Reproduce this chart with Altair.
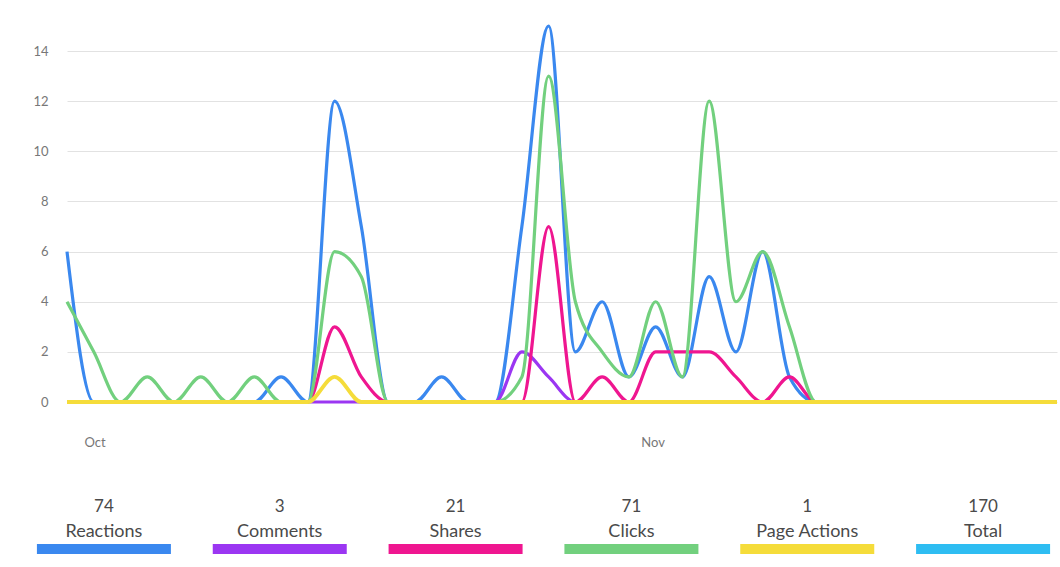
import altair as alt
import pandas as pd

series = ["Reactions", "Comments", "Shares", "Clicks", "Page Actions"]
colors = ["#3a88ef", "#9b36f2", "#ef1690", "#72d07e", "#f5dc3a"]
widths = [3.2, 3.2, 3.2, 3.2, 3.8]
legend_names = ["Reactions", "Comments", "Shares", "Clicks", "Page Actions", "Total"]
legend_totals = [74, 3, 21, 71, 1, 170]
legend_colors = ["#3a88ef", "#9b36f2", "#ef1690", "#72d07e", "#f5dc3a", "#2ebdf2"]

reactions = [6, 0, 0, 0, 0, 0, 0, 0, 1, 0, 12, 7, 0, 0, 1, 0, 0, 7, 15, 2, 4, 1, 3, 1, 5, 2, 6, 1, 0, 0, 0, 0, 0, 0, 0, 0, 0, 0]
comments = [0, 0, 0, 0, 0, 0, 0, 0, 0, 0, 0, 0, 0, 0, 0, 0, 0, 2, 1, 0, 0, 0, 0, 0, 0, 0, 0, 0, 0, 0, 0, 0, 0, 0, 0, 0, 0, 0]
shares = [0, 0, 0, 0, 0, 0, 0, 0, 0, 0, 3, 1, 0, 0, 0, 0, 0, 0, 7, 0, 1, 0, 2, 2, 2, 1, 0, 1, 0, 0, 0, 0, 0, 0, 0, 0, 0, 0]
clicks = [4, 2, 0, 1, 0, 1, 0, 1, 0, 0, 6, 5, 0, 0, 0, 0, 0, 1, 13, 4, 2, 1, 4, 1, 12, 4, 6, 3, 0, 0, 0, 0, 0, 0, 0, 0, 0, 0]
page_actions = [0, 0, 0, 0, 0, 0, 0, 0, 0, 0, 1, 0, 0, 0, 0, 0, 0, 0, 0, 0, 0, 0, 0, 0, 0, 0, 0, 0, 0, 0, 0, 0, 0, 0, 0, 0, 0, 0]

dates = pd.date_range("2019-09-29 11:20", periods=38, freq="2140min")
date_strs = [d.strftime("%Y-%m-%dT%H:%M:%S") for d in dates]

rows = []
for k, (name, vals) in enumerate(zip(series, [reactions, comments, shares, clicks, page_actions])):
    for d, v in zip(date_strs, vals):
        rows.append({"date": d, "series": name, "value": v})
df = pd.DataFrame(rows)

FONT = "Lato"

x_enc = alt.X(
    "date:T",
    scale=alt.Scale(domain=[date_strs[0], date_strs[-1]], nice=False),
    axis=alt.Axis(
        values=[alt.DateTime(year=2019, month=10, date=1), alt.DateTime(year=2019, month=11, date=1)],
        format="%b", title=None, grid=False, ticks=False, domain=False,
        labelPadding=34, labelFont=FONT, labelFontSize=13, labelColor="#777777",
    ),
)
y_enc = alt.Y(
    "value:Q",
    scale=alt.Scale(domain=[0, 15], nice=False),
    axis=alt.Axis(
        values=[0, 2, 4, 6, 8, 10, 12, 14], title=None, ticks=False, domain=False,
        labelPadding=19, labelFont=FONT, labelFontSize=13, labelColor="#777777",
        gridColor="#e2e2e2", gridWidth=1,
    ),
)

line_layers = []
for name, w in zip(series, widths):
    line_layers.append(
        alt.Chart(df).transform_filter(alt.datum.series == name)
        .mark_line(interpolate="monotone", strokeWidth=w, clip=False)
        .encode(
            x=x_enc, y=y_enc,
            color=alt.Color("series:N", scale=alt.Scale(domain=series, range=colors), legend=None),
        )
    )
lines = alt.layer(*line_layers)

leg_df = pd.DataFrame({"name": legend_names, "total": legend_totals, "color": legend_colors})
leg_x = alt.X(
    "name:N", sort=legend_names,
    scale=alt.Scale(domain=legend_names, range=[-51, 1004], paddingInner=0, paddingOuter=0),
    axis=None,
)

leg_num = alt.Chart(leg_df).mark_text(font=FONT, fontSize=17, color="#4a4a4a", baseline="middle").encode(
    x=leg_x, y=alt.value(481), text="total:Q"
)
leg_name = alt.Chart(leg_df).mark_text(font=FONT, fontSize=18, color="#4a4a4a", baseline="middle").encode(
    x=leg_x, y=alt.value(506), text="name:N"
)
leg_bar = alt.Chart(leg_df).mark_bar(size=134).encode(
    x=leg_x, y=alt.value(518), y2=alt.value(528), color=alt.Color("color:N", scale=None)
)
legend = alt.layer(leg_num, leg_name, leg_bar)

chart = alt.layer(lines, legend).resolve_scale(
    x="independent", color="independent"
).properties(
    width=990, height=376,
    autosize=alt.AutoSizeParams(type="none"),
    padding={"left": 67, "top": 26, "right": 3, "bottom": 165},
    background="white",
).configure_view(stroke=None)

chart.save("out.html", embed_options={"renderer": "svg", "actions": False})
